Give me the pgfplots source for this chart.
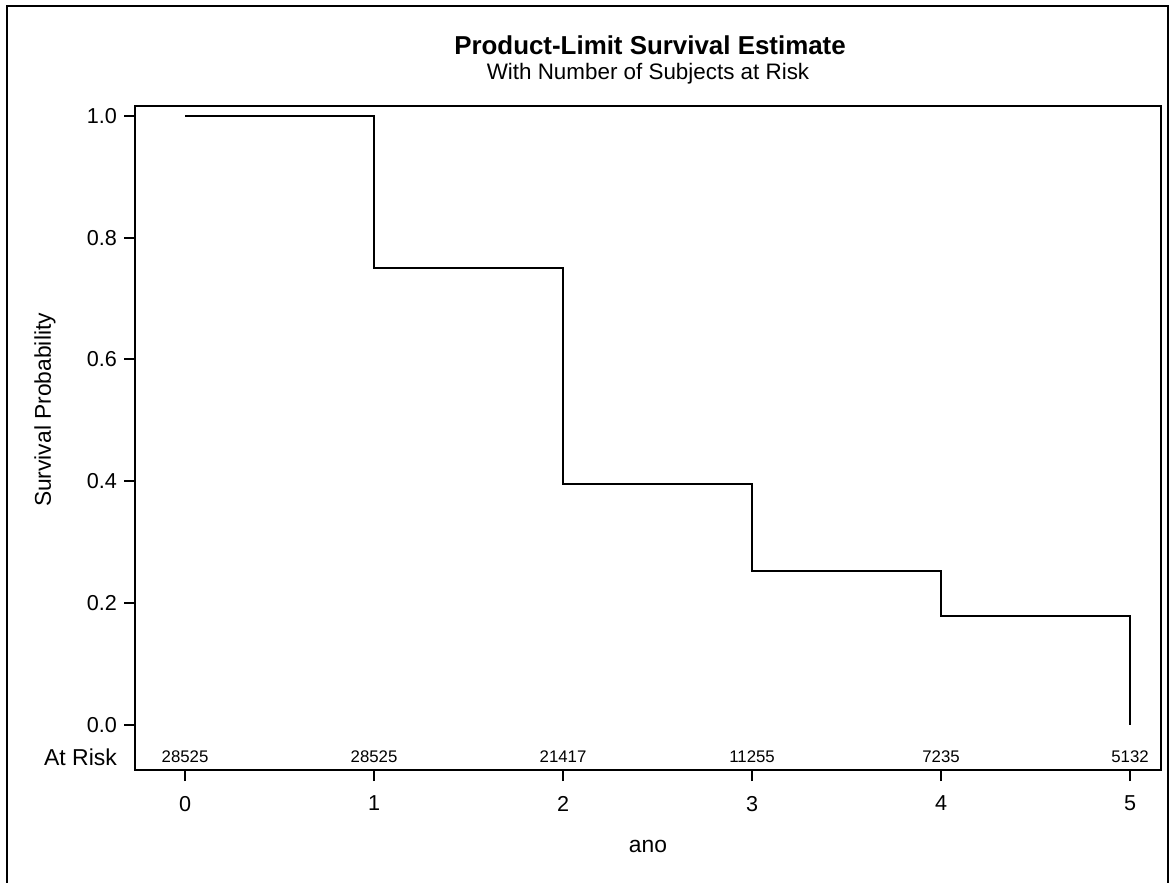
\documentclass[border=0pt]{standalone}
\usepackage{fontspec}
\setmainfont{Liberation Sans}
\usepackage{pgfplots}
\pgfplotsset{compat=1.18}
\begin{document}
\begin{tikzpicture}
\useasboundingbox (0pt,0pt) rectangle (585pt,-441pt);
\draw[line width=1pt] (3.5pt,-445pt) -- (3.5pt,-3pt) -- (584pt,-3pt) -- (584pt,-445pt);
\begin{axis}[
  at={(67.5pt,-385pt)}, anchor=south west,
  scale only axis, width=513pt, height=332pt,
  xmin=-0.265, xmax=5.164, ymin=-0.074, ymax=1.016,
  axis line style={line width=1pt},
  xtick={0,1,2,3,4,5}, ytick={0,0.2,0.4,0.6,0.8,1.0},
  xtick pos=bottom, ytick pos=left, tick align=outside,
  major tick length=5.5pt,
  tick style={line width=1pt, black},
  /pgf/number format/assume math mode=true,
  tick label style={font=\fontsize{10.8}{12}\selectfont},
  xticklabel style={yshift=-4pt},
  yticklabel style={/pgf/number format/fixed, /pgf/number format/fixed zerofill, /pgf/number format/precision=1},
  clip=false,
]
\addplot[const plot, line width=1pt, black] coordinates {(0,1) (1,0.75) (2,0.395) (3,0.252) (4,0.178) (5,0)};
\addplot[draw=none, mark=none, nodes near coords, point meta=explicit symbolic,
  every node near coord/.style={anchor=center, font=\fontsize{8.4}{10}\selectfont}]
  table[meta=label] {
x y label
0 -0.0525 28525
1 -0.0525 28525
2 -0.0525 21417
3 -0.0525 11255
4 -0.0525 7235
5 -0.0525 5132
};
\node[anchor=east, font=\fontsize{11.5}{13}\selectfont] at (rel axis cs:0,0.0196) [xshift=-5.5pt] {At Risk};
\end{axis}
\node[font=\bfseries\fontsize{12.95}{15}\selectfont] at (325pt,-22.5pt) {Product-Limit Survival Estimate};
\node[font=\fontsize{11.2}{13}\selectfont] at (324pt,-37pt) {With Number of Subjects at Risk};
\node[rotate=90, font=\fontsize{11.4}{13}\selectfont] at (22.5pt,-205pt) {Survival Probability};
\node[font=\fontsize{11.4}{13}\selectfont] at (324pt,-423pt) {ano};
\end{tikzpicture}
\end{document}
